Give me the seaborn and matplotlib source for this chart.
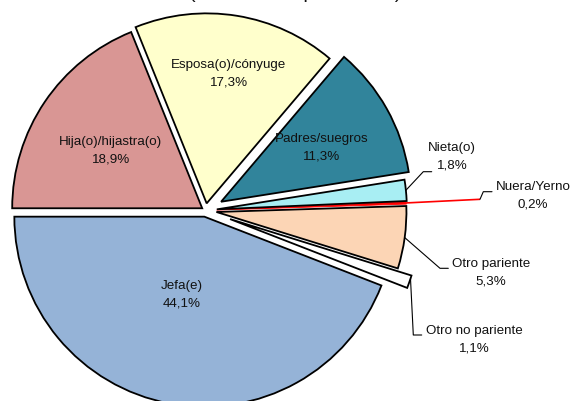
import matplotlib
matplotlib.use("Agg")
import matplotlib.pyplot as plt
import seaborn as sns
import numpy as np

# ---- data -------------------------------------------------------------
categorias = ["Jefa(e)", "Otro no pariente", "Otro pariente", "Nuera/Yerno",
              "Nieta(o)", "Padres/suegros", "Esposa(o)/cónyuge",
              "Hija(o)/hijastra(o)"]
porcentajes = [44.1, 1.1, 5.3, 0.2, 1.8, 11.3, 17.3, 18.9]
colores = ["#95B3D7", "#FFFFFF", "#FCD5B5", "#FF0000", "#A8EEF3",
           "#31849B", "#FFFFCC", "#D99694"]
subtitulo = "(Distribución porcentual)"

# ---- canvas (pixel-based coordinates, y up) ---------------------------
W, H = 572, 401
sns.set_theme(style="white")
plt.rcParams["font.family"] = ["Liberation Sans", "DejaVu Sans"]

fig = plt.figure(figsize=(W / 100, H / 100), dpi=100)
ax = fig.add_axes([0, 0, 1, 1])

centro = (205.5, H - 210.5)
radio = 190
# slice offsets as a share of the radius
separacion = [0.033, 0.137, 0.058, 0.058, 0.06, 0.094, 0.038, 0.021]

wedges, _ = ax.pie(
    porcentajes, colors=colores,
    explode=[s * radio for s in separacion], startangle=180,
    counterclock=True, center=centro, radius=radio,
    wedgeprops=dict(edgecolor="black", linewidth=1.3),
)
# the tiny Nuera/Yerno slice is drawn all in red
wedges[3].set_edgecolor("#FF0000")
wedges[3].set_linewidth(0.6)

ax.set_xlim(0, W)
ax.set_ylim(0, H)
ax.set_aspect("equal")
ax.axis("off")


def etiqueta(i):
    return f"{categorias[i]}\n{porcentajes[i]:.1f}%".replace(".", ",")


txt = dict(fontsize=9.6, color="#111111", ha="center", va="center",
           linespacing=1.6)

# labels inside the large slices (x, y from the top edge)
dentro = {0: (182, 295), 7: (111, 151), 6: (229, 74), 5: (322, 147.5)}
for i, (x, y) in dentro.items():
    ax.text(x, H - y, etiqueta(i), **txt)

# labels outside, with leader lines: (text centre, bend points, anchor frac)
fuera = {
    4: ((452, 156.5), [(423.3, 171.7), (431.7, 171.7)], 0.5),
    3: ((533, 195.5), [(480, 199.3), (483.3, 191.7), (492, 191.7)], 0.5),
    2: ((491, 272.5), [(440, 268.3), (448.3, 268.3)], 0.5),
    1: ((474, 339.5), [(413.3, 335), (421.7, 335)], 0.75),
}
for i, ((x, y), codos, frac) in fuera.items():
    ax.text(x, H - y, etiqueta(i), **txt)
    w = wedges[i]
    ang = np.deg2rad(w.theta1 + frac * (w.theta2 - w.theta1))
    cx, cy = w.center
    p0 = (cx + w.r * np.cos(ang), cy + w.r * np.sin(ang))
    pts = [p0] + [(px, H - py) for px, py in codos]
    xs, ys = zip(*pts)
    if i == 3:
        ax.plot(xs[:2], ys[:2], color="#FF0000", lw=1.2, solid_capstyle="butt")
        ax.plot(xs[1:], ys[1:], color="black", lw=0.8)
    else:
        ax.plot(xs, ys, color="black", lw=0.8)

# subtitle sitting right at the top edge
ax.text(295.5, H + 1.5, subtitulo, fontsize=14, ha="center", va="baseline",
        color="#111111", clip_on=False)

fig.savefig("out.png", dpi=100)
